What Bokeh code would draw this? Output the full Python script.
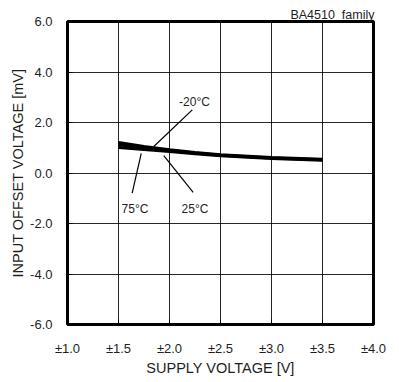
from bokeh.plotting import figure
from bokeh.models import FixedTicker, Range1d
from bokeh.embed import file_html
from bokeh.resources import INLINE
from bokeh.core.properties import value

# data
supply_v = [1.5, 1.75, 2.0, 2.25, 2.5, 3.0, 3.5]
vio_m20 = [1.21, 1.05, 0.92, 0.81, 0.72, 0.61, 0.54]
vio_25 = [1.12, 1.00, 0.89, 0.79, 0.70, 0.59, 0.52]
vio_75 = [1.01, 0.93, 0.85, 0.76, 0.68, 0.57, 0.50]

x_ticks = [1.0, 1.5, 2.0, 2.5, 3.0, 3.5, 4.0]
x_tick_labels = ["±1.0", "±1.5", "±2.0", "±2.5", "±3.0", "±3.5", "±4.0"]
y_ticks = [-6, -4, -2, 0, 2, 4, 6]
y_tick_labels = ["-6.0", "-4.0", "-2.0", "0.0", "2.0", "4.0", "6.0"]

label_texts = ["-20°C", "75°C", "25°C"]
label_x = [2.245, 1.662, 2.25]
label_y = [2.83, -1.43, -1.43]
leader_x0 = [2.223, 1.634, 2.232]
leader_y0 = [2.50, -0.80, -0.77]
leader_x1 = [1.846, 1.723, 1.944]
leader_y1 = [1.05, 0.78, 0.69]

FONT = "Liberation Sans"
TXT = "#1e1e1e"

p = figure(width=399, height=382, output_backend="svg", toolbar_location=None,
           x_range=Range1d(1.0, 4.0), y_range=Range1d(-6.0, 6.0),
           min_border_left=67, min_border_right=26, min_border_top=21,
           min_border_bottom=58, background_fill_color="white",
           border_fill_color="white")

p.title.text = "BA4510\u00a0\u00a0family"
p.title.align = "right"
p.title.text_font = FONT
p.title.text_font_size = "12.5px"
p.title.text_font_style = "normal"
p.title.text_color = TXT
p.title.standoff = 0
p.title.offset = -1

p.outline_line_color = "black"
p.outline_line_width = 3
p.outline_line_alpha = 1

p.xaxis.ticker = FixedTicker(ticks=x_ticks)
p.yaxis.ticker = FixedTicker(ticks=y_ticks)
p.xaxis.major_label_overrides = dict(zip(x_ticks, x_tick_labels))
p.yaxis.major_label_overrides = {t: l for t, l in zip(y_ticks, y_tick_labels)}

for ax in (p.xaxis, p.yaxis):
    ax.axis_line_color = None
    ax.major_tick_out = 0
    ax.major_tick_in = 5
    ax.major_tick_line_color = "black"
    ax.minor_tick_line_color = None
    ax.major_label_text_font = FONT
    ax.major_label_text_font_size = "13px"
    ax.major_label_text_color = TXT
    ax.axis_label_text_font = FONT
    ax.axis_label_text_font_size = "14.5px"
    ax.axis_label_text_font_style = "normal"
    ax.axis_label_text_color = TXT

p.xaxis.axis_label = "SUPPLY VOLTAGE [V]"
p.yaxis.axis_label = "INPUT OFFSET VOLTAGE [mV]"
p.xaxis.major_label_standoff = 16
p.yaxis.major_label_standoff = 15
p.xaxis.axis_label_standoff = 1
p.yaxis.axis_label_standoff = 1

p.xgrid.ticker = FixedTicker(ticks=x_ticks)
p.ygrid.ticker = FixedTicker(ticks=y_ticks)
p.grid.grid_line_color = "black"
p.grid.grid_line_width = 1
p.grid.grid_line_alpha = 0.85

for ys in (vio_75, vio_25, vio_m20):
    p.line(supply_v, ys, line_color="black", line_width=3)

p.segment(x0=leader_x0, y0=leader_y0, x1=leader_x1, y1=leader_y1,
          line_color="black", line_width=1.2)
p.text(x=label_x, y=label_y, text=label_texts, text_font=value(FONT),
       text_font_size="12px", text_align="center", text_baseline="middle",
       text_color=TXT)

open("out.html", "w").write(file_html(p, INLINE))
